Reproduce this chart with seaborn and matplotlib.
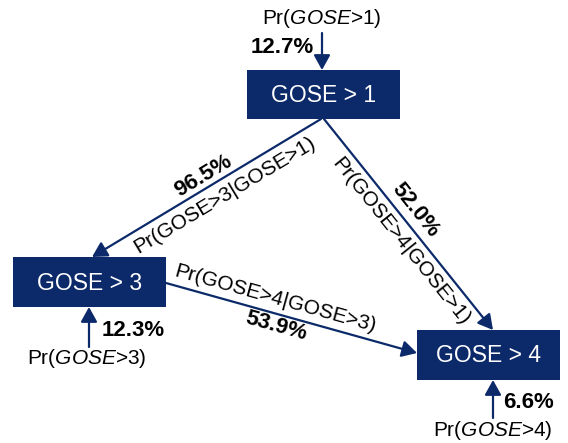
import numpy as np
import matplotlib
matplotlib.use("Agg")
import matplotlib.pyplot as plt
from matplotlib.patches import Rectangle, FancyArrowPatch
import seaborn as sns

# ---------------- data ----------------
nodes = ["GOSE > 1", "GOSE > 3", "GOSE > 4"]
marginal_labels = ["Pr($\\mathit{GOSE}$>1)", "Pr($\\mathit{GOSE}$>3)", "Pr($\\mathit{GOSE}$>4)"]
marginal_pcts = [12.7, 12.3, 6.6]
edge_from = [0, 0, 1]
edge_to = [1, 2, 2]
cond_labels = ["Pr(GOSE>3|GOSE>1)", "Pr(GOSE>4|GOSE>1)", "Pr(GOSE>4|GOSE>3)"]
cond_pcts = [96.5, 52.0, 53.9]

# ---------------- layout (pixel space) ----------------
W, H = 568, 443
box_rects = [(247, 70, 153, 49), (13, 257, 153, 50), (417, 330, 143, 50)]  # x, y, w, h
# marginal arrows: (x, y_start, y_end), pct label center, Pr label center
marg_arrows = [(322, 33, 70), (89, 347, 307), (493, 418, 380)]
marg_pct_pos = [(282, 47), (133, 331), (529, 403)]
marg_lab_pos = [(322, 18), (87, 359), (493, 430)]
# conditional edges
edge_pts = [((321, 119), (92, 257)), ((324, 119), (493, 330)), ((166, 283), (417, 353))]
cond_pct_pos = [(203, 176), (415, 210), (276, 326)]
cond_lab_pos = [(225, 195), (401, 241), (275, 299)]

NAVY = "#0c2a6a"

sns.set_theme(style="white")
plt.rcParams["font.family"] = ["Liberation Sans", "DejaVu Sans"]
plt.rcParams["mathtext.fontset"] = "custom"
plt.rcParams["mathtext.rm"] = "Liberation Sans"
plt.rcParams["mathtext.it"] = "Liberation Sans:italic"
plt.rcParams["mathtext.bf"] = "Liberation Sans:bold"

fig = plt.figure(figsize=(W / 100, H / 100), dpi=100)
ax = fig.add_axes([0, 0, 1, 1])
ax.set_xlim(0, W)
ax.set_ylim(H, 0)
ax.axis("off")

arrow_style = "-|>,head_length=0.9,head_width=0.5"

# boxes
for name, (x, y, w, h) in zip(nodes, box_rects):
    ax.add_patch(Rectangle((x, y), w, h, facecolor=NAVY, edgecolor="none", zorder=3))
    ax.text(x + w / 2, y + h / 2 + 1, name, color="white", fontsize=16.5,
            ha="center", va="center", zorder=4)

# marginal arrows
for (x, y0, y1), lab, pct, lp, pp in zip(marg_arrows, marginal_labels, marginal_pcts,
                                         marg_lab_pos, marg_pct_pos):
    ax.add_patch(FancyArrowPatch((x, y0), (x, y1), arrowstyle=arrow_style,
                                 mutation_scale=10, color=NAVY, lw=1.6,
                                 shrinkA=0, shrinkB=0, zorder=2))
    ax.text(lp[0], lp[1], lab, fontsize=15, ha="center", va="center", color="black")
    ax.text(pp[0], pp[1], f"{pct:.1f}%", fontsize=16, fontweight="bold",
            ha="center", va="center", color="black")

# conditional edges
for (p0, p1), lab, pct, lp, pp in zip(edge_pts, cond_labels, cond_pcts,
                                      cond_lab_pos, cond_pct_pos):
    ax.add_patch(FancyArrowPatch(p0, p1, arrowstyle=arrow_style,
                                 mutation_scale=10, color=NAVY, lw=1.6,
                                 shrinkA=0, shrinkB=0, zorder=2))
    dx, dy = p1[0] - p0[0], p1[1] - p0[1]
    ang = -np.degrees(np.arctan2(dy, dx))
    if ang > 90:
        ang -= 180
    elif ang < -90:
        ang += 180
    ax.text(lp[0], lp[1], lab, fontsize=15, ha="center", va="center",
            rotation=ang, rotation_mode="anchor", color="black")
    ax.text(pp[0], pp[1], f"{pct:.1f}%", fontsize=16, fontweight="bold",
            ha="center", va="center", rotation=ang, rotation_mode="anchor",
            color="black")

fig.savefig("out.png", dpi=100, facecolor="white")
